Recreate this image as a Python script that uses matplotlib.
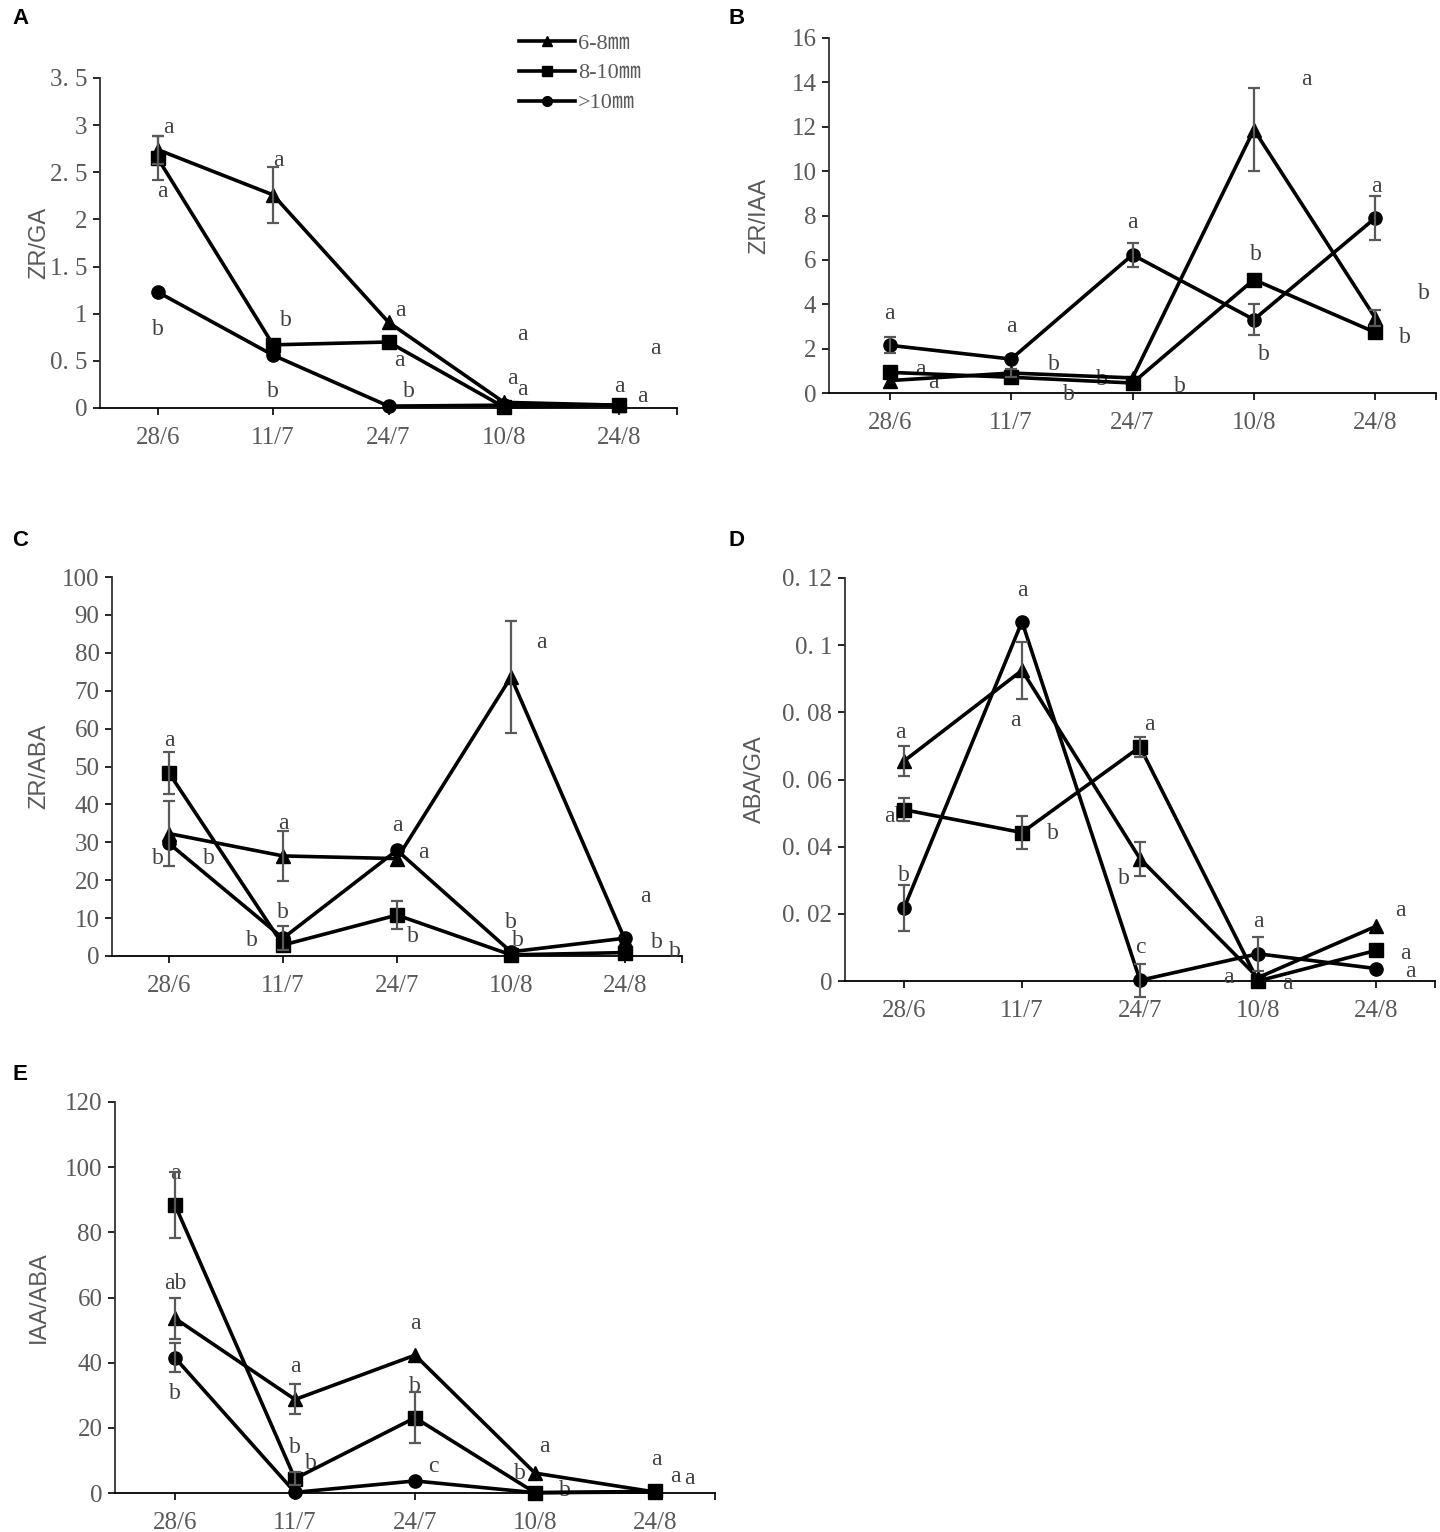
import matplotlib
matplotlib.use('Agg')
import numpy as np
import matplotlib.pyplot as plt
from matplotlib.lines import Line2D

# ---------------------------
# data
dates = ['28/6', '11/7', '24/7', '10/8', '24/8']
series_names = ['6-8㎜', '8-10㎜', '>10㎜']
markers = ['^', 's', 'o']

# A  ZR/GA
a_68 = [2.74, 2.26, 0.91, 0.06, 0.03]
a_810 = [2.65, 0.67, 0.70, 0.01, 0.03]
a_10 = [1.23, 0.56, 0.02, 0.03, 0.03]
a_68_err = [0.15, 0.30, 0, 0, 0]
a_810_err = [0.23, 0, 0, 0, 0]
a_10_err = [0, 0, 0, 0, 0]
a_yticklabels = ['0', '0. 5', '1', '1. 5', '2', '2. 5', '3', '3. 5']
a_letters = [(0.09, 2.98, 'a'), (0.04, 2.30, 'a'), (1.05, 2.62, 'a'),
             (0.0, 0.83, 'b'), (1.11, 0.93, 'b'), (1.0, 0.17, 'b'),
             (2.10, 1.03, 'a'), (2.09, 0.50, 'a'), (2.18, 0.18, 'b'),
             (3.16, 0.78, 'a'), (3.07, 0.31, 'a'), (3.16, 0.20, 'a'),
             (4.0, 0.23, 'a'), (4.31, 0.63, 'a'), (4.20, 0.12, 'a')]

# B  ZR/IAA
b_68 = [0.56, 0.90, 0.68, 11.87, 3.38]
b_810 = [0.93, 0.71, 0.45, 5.11, 2.73]
b_10 = [2.15, 1.53, 6.23, 3.31, 7.89]
b_68_err = [0, 0.2, 0, 1.88, 0.38]
b_810_err = [0, 0, 0, 0, 0]
b_10_err = [0.36, 0, 0.54, 0.68, 0.98]
b_yticklabels = ['0', '2', '4', '6', '8', '10', '12', '14', '16']
b_letters = [(0.0, 3.6, 'a'), (0.25, 1.05, 'a'), (0.36, 0.48, 'a'),
             (1.0, 3.0, 'a'), (1.35, 1.28, 'b'), (1.48, -0.08, 'b'),
             (1.75, 0.6, 'b'), (2.0, 7.69, 'a'), (2.39, 0.3, 'b'),
             (3.43, 14.12, 'a'), (3.02, 6.23, 'b'), (3.08, 1.73, 'b'),
             (4.01, 9.31, 'a'), (4.40, 4.5, 'b'), (4.24, 2.48, 'b')]

# C  ZR/ABA
c_68 = [32.3, 26.4, 25.7, 73.6, 4.3]
c_810 = [48.3, 2.9, 10.8, 0.3, 0.9]
c_10 = [29.7, 4.7, 27.9, 1.1, 4.7]
c_68_err = [8.5, 6.6, 0, 14.8, 0]
c_810_err = [5.5, 0, 3.8, 0, 0]
c_10_err = [0, 3.2, 0, 0, 0]
c_yticklabels = ['0', '10', '20', '30', '40', '50', '60', '70', '80', '90', '100']
c_letters = [(0.0, 56.9, 'a'), (-0.1, 25.7, 'b'), (0.35, 25.7, 'b'),
             (1.0, 35.0, 'a'), (1.0, 11.4, 'b'), (0.73, 4.0, 'b'),
             (2.0, 34.5, 'a'), (2.23, 27.2, 'a'), (2.14, 5.1, 'b'),
             (3.27, 82.6, 'a'), (3.0, 8.8, 'b'), (3.06, 4.0, 'b'),
             (4.18, 15.6, 'a'), (4.28, 3.5, 'b'), (4.44, 1.1, 'b')]

# D  ABA/GA
d_68 = [0.0655, 0.0925, 0.0364, 0.001, 0.0163]
d_810 = [0.051, 0.0442, 0.0697, 0.0, 0.0091]
d_10 = [0.0217, 0.107, 0.0002, 0.0081, 0.0037]
d_68_err = [0.0044, 0.0085, 0.005, 0, 0]
d_810_err = [0.0035, 0.0049, 0.003, 0, 0]
d_10_err = [0.0069, 0, 0.005, 0.005, 0]
d_yticklabels = ['0', '0. 02', '0. 04', '0. 06', '0. 08', '0. 1', '0. 12']
d_letters = [(1.0, 0.1163, 'a'), (-0.03, 0.0741, 'a'), (-0.07, 0.049, 'ab'),
             (0.0, 0.0315, 'b'), (0.94, 0.0776, 'a'), (1.26, 0.0439, 'b'),
             (2.08, 0.0764, 'a'), (1.86, 0.0305, 'b'), (2.0, 0.0101, 'c'),
             (3.0, 0.0176, 'a'), (2.75, 0.001, 'a'), (3.25, -0.0008, 'a'),
             (4.21, 0.021, 'a'), (4.25, 0.0081, 'a'), (4.29, 0.0027, 'a')]

# E  IAA/ABA
e_68 = [53.6, 28.7, 42.3, 6.1, 0.3]
e_810 = [88.4, 4.4, 23.1, 0.1, 0.5]
e_10 = [41.5, 0.2, 3.7, 0.1, 0.3]
e_68_err = [6.4, 4.6, 0, 0, 0]
e_810_err = [10.1, 2.0, 7.9, 0, 0]
e_10_err = [4.5, 0, 0, 0, 0]
e_yticklabels = ['0', '20', '40', '60', '80', '100', '120']
e_letters = [(0.0, 98.2, 'a'), (0.0, 64.4, 'ab'), (0.0, 30.5, 'b'),
             (1.0, 38.9, 'a'), (1.0, 14.1, 'b'), (1.13, 9.2, 'b'),
             (2.0, 52.1, 'a'), (2.0, 32.6, 'b'), (2.15, 8.2, 'c'),
             (3.08, 14.3, 'a'), (2.87, 5.9, 'b'), (3.25, 0.8, 'b'),
             (4.01, 10.2, 'a'), (4.17, 5.1, 'a'), (4.29, 4.4, 'a')]

# ---------------------------
W, H = 1440, 1532
GRAY = '#595959'
TICKFONT = dict(family='Liberation Serif', size=18, color=GRAY)
LETTERFONT = dict(family='Liberation Serif', size=17, color='#404040')

fig = plt.figure(figsize=(W / 100, H / 100), dpi=100)


def add_axes(left, right, top, bottom):
    # pixel box -> figure fraction
    return fig.add_axes([left / W, 1 - bottom / H, (right - left) / W, (bottom - top) / H])


def draw_panel(ax, series, errs, ymax, ystep, ylabels, ylabel, ylabel_px, letters):
    x = np.arange(len(dates))
    for vals, err, mk in zip(series, errs, markers):
        ax.plot(x, vals, color='black', lw=2.6, marker=mk, ms=9.5,
                clip_on=False, zorder=4)
        err = np.asarray(err, dtype=float)
        keep = err > 0
        if keep.any():
            ax.errorbar(x[keep], np.asarray(vals)[keep], yerr=err[keep], fmt='none',
                        ecolor=GRAY, elinewidth=1.6, capsize=4.5, capthick=1.6,
                        zorder=5, clip_on=False)

    for _xx, _yy, _tt in letters:
        ax.text(_xx, _yy, _tt, ha='center', va='center', **LETTERFONT)

    ax.set_xlim(-0.5, 4.5)
    ax.set_ylim(0, ymax)
    ax.set_yticks(np.arange(0, ymax + ystep / 2, ystep))
    ax.set_yticklabels(ylabels, fontdict=TICKFONT)
    ax.set_xticks(x)
    ax.set_xticklabels(dates, fontdict=TICKFONT)
    ax.set_xticks([4.5], minor=True)
    ax.tick_params(axis='x', which='both', length=5, width=1.2, direction='out', pad=9)
    ax.tick_params(axis='y', length=5, width=1.2, direction='out', pad=4)

    for _sp in ('top', 'right'):
        ax.spines[_sp].set_visible(False)
    for _sp in ('left', 'bottom'):
        ax.spines[_sp].set_linewidth(1.3)
    ax.spines['left'].set_color('#333333')

    # y label centred at a fixed pixel column (it overlaps the tick labels in the original)
    pos = ax.get_position()
    x0, w = pos.x0 * W, pos.width * W
    ax.set_ylabel(ylabel, family='Liberation Sans', fontsize=17, color=GRAY,
                  va='center')
    ax.yaxis.set_label_coords((ylabel_px - x0) / w, 0.5)
    ax.patch.set_alpha(0)


ax_a = add_axes(100, 677, 78, 408)
draw_panel(ax_a, [a_68, a_810, a_10], [a_68_err, a_810_err, a_10_err],
           3.5, 0.5, a_yticklabels, 'ZR/GA', 39, a_letters)

ax_b = add_axes(829, 1436, 38, 393)
draw_panel(ax_b, [b_68, b_810, b_10], [b_68_err, b_810_err, b_10_err],
           16, 2, b_yticklabels, 'ZR/IAA', 759, b_letters)

ax_c = add_axes(112, 682, 577, 956)
draw_panel(ax_c, [c_68, c_810, c_10], [c_68_err, c_810_err, c_10_err],
           100, 10, c_yticklabels, 'ZR/ABA', 39, c_letters)

ax_d = add_axes(845, 1435, 578, 981)
draw_panel(ax_d, [d_68, d_810, d_10], [d_68_err, d_810_err, d_10_err],
           0.12, 0.02, d_yticklabels, 'ABA/GA', 755, d_letters)

ax_e = add_axes(115, 715, 1102, 1493)
draw_panel(ax_e, [e_68, e_810, e_10], [e_68_err, e_810_err, e_10_err],
           120, 20, e_yticklabels, 'IAA/ABA', 39, e_letters)

# legend (sits above panel A)
handles = [Line2D([], [], color='black', lw=2.6, marker=mk, ms=7) for mk in markers]
ax_a.legend(handles, series_names, loc='upper left',
            bbox_to_anchor=(519 / W, 1 - 33 / H), bbox_transform=fig.transFigure,
            frameon=False, borderpad=0, borderaxespad=0, handlelength=2.5,
            handletextpad=0.15, labelspacing=0.42,
            prop=dict(family=['Liberation Serif', 'Noto Sans CJK SC'], size=16))
for _t in ax_a.get_legend().get_texts():
    _t.set_color(GRAY)

# panel letters
for _lab, _px, _py in (('A', 12, 18), ('B', 728, 18), ('C', 12, 540),
                       ('D', 728, 540), ('E', 12, 1075)):
    fig.text(_px / W, 1 - _py / H, _lab, family='Liberation Sans', fontweight='bold',
             fontsize=16, ha='left', va='center')

fig.savefig('out.png', dpi=100)
